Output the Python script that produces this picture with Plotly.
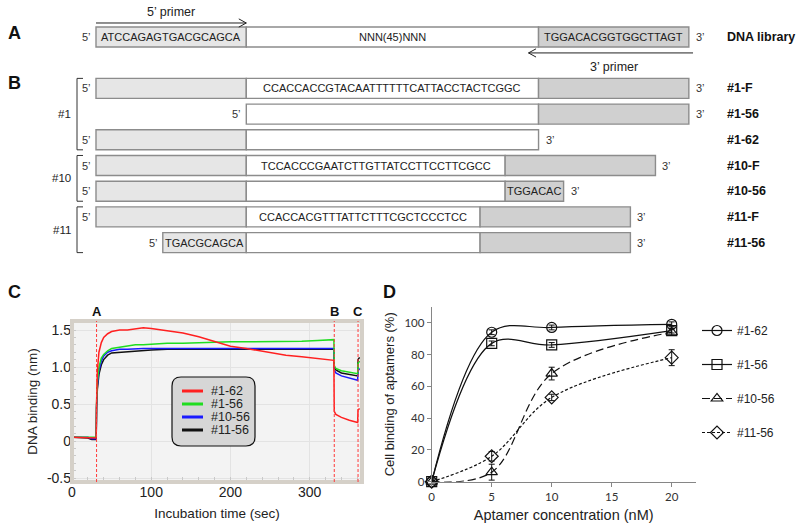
import plotly.graph_objects as go

W, H = 800, 530
def px(x): return x / W
def py(y): return 1 - y / H

# ---------------- Panels A/B: DNA constructs (lengths in nucleotides) ----------------
rows = ["DNA library", "#1-F", "#1-56", "#1-62", "#10-F", "#10-56", "#11-F", "#11-56"]
p5_len = [18, 18, 0, 18, 18, 18, 18, 10]
mid_len = [35, 35, 35, 35, 31, 31, 28, 28]
p3_len = [18, 18, 18, 0, 18, 7, 18, 18]
p5_text = ["ATCCAGAGTGACGCAGCA", "", "", "", "", "", "", "TGACGCAGCA"]
mid_text = ["NNN(45)NNN", "CCACCACCGTACAATTTTTTCATTACCTACTCGGC", "", "",
            "TCCACCCGAATCTTGTTATCCTTCCTTCGCC", "", "CCACCACGTTTATTCTTTCGCTCCCTCC", ""]
p3_text = ["TGGACACGGTGGCTTAGT", "", "", "", "", "TGGACAC", "", ""]
group_names = ["#1", "#10", "#11"]
group_first = [1, 4, 6]
group_last = [3, 5, 7]
primer_names = ["5’ primer", "3’ primer"]

# ---------------- Panel C: BLI sensorgram ----------------
t_sec = [1, 10, 20, 25, 30.5, 31, 32, 34, 37, 40, 45, 50, 60, 70, 80, 90, 100, 120, 140, 160,
         180, 200, 220, 235, 250, 270, 290, 310, 330.5, 331, 333, 340, 350, 360.5, 361, 363]
bli_names = ["#1-62", "#1-56", "#10-56", "#11-56"]
bli_162 = [0.05, 0.05, 0.05, 0.04, 0.04,
           0.50, 0.95, 1.20, 1.33, 1.40, 1.45, 1.48, 1.50, 1.50, 1.51, 1.53, 1.52, 1.49, 1.46, 1.41,
           1.34, 1.28, 1.25, 1.22, 1.19, 1.16, 1.14, 1.12, 1.09,
           0.40, 0.36, 0.32, 0.28, 0.25, 0.42, 0.44]
bli_156 = [0.05, 0.05, 0.05, 0.05, 0.05,
           0.50, 0.80, 1.00, 1.12, 1.17, 1.22, 1.25, 1.27, 1.29, 1.30, 1.30, 1.31, 1.32, 1.32, 1.33,
           1.33, 1.34, 1.34, 1.34, 1.34, 1.35, 1.35, 1.36, 1.37,
           1.02, 0.98, 0.95, 0.93, 0.91, 1.05, 1.08]
bli_1056 = [0.05, 0.05, 0.05, 0.03, 0.03,
            0.45, 0.75, 0.95, 1.08, 1.15, 1.20, 1.22, 1.24, 1.24, 1.25, 1.25, 1.25, 1.25, 1.25, 1.25,
            1.25, 1.25, 1.25, 1.25, 1.25, 1.25, 1.25, 1.25, 1.25,
            0.96, 0.92, 0.88, 0.85, 0.82, 0.95, 0.98]
bli_1156 = [0.05, 0.05, 0.04, 0.02, 0.02,
            0.45, 0.70, 0.90, 1.03, 1.10, 1.16, 1.19, 1.20, 1.21, 1.22, 1.23, 1.23, 1.24, 1.24, 1.24,
            1.24, 1.24, 1.24, 1.24, 1.24, 1.24, 1.24, 1.24, 1.24,
            1.00, 0.96, 0.92, 0.90, 0.88, 1.10, 1.13]
event_t = [31, 331, 361]
event_labels = ["A", "B", "C"]
c_xticks = [0, 100, 200, 300]
c_yticks = [-0.5, 0, 0.5, 1.0, 1.5]
c_yticktext = ["-0.5", "0", "0.5", "1.0", "1.5"]

# ---------------- Panel D: cell binding ----------------
conc_nM = [0, 5, 10, 20]
d_names = ["#1-62", "#1-56", "#10-56", "#11-56"]
bind_162 = [0, 94, 97, 99]
err_162 = [0.5, 1.5, 1.5, 1.5]
bind_156 = [0, 87, 86, 95]
err_156 = [0.5, 1.5, 1.5, 1.5]
bind_1056 = [0, 6, 68, 94]
err_1056 = [0.5, 5, 4, 2]
bind_1156 = [0, 16, 53, 78]
err_1156 = [0.5, 3, 2, 5]

# ================= figure =================
fig = go.Figure()
FONT = "Liberation Sans"

# ---- schematic axis (x3: nucleotides, y3: row slots) ----
row_slot = [0, 2, 3, 4, 5, 6, 7, 8]
x0_px, nt_px = 96.0, 8.35
row0_px, row_px = 37.0, 25.7
bar_w = 0.78
lib_p = p5_len[0]
n = len(rows)
p5_base = [lib_p - l for l in p5_len]
mid_base = [lib_p] * n
p3_base = [lib_p + m for m in mid_len]

edge = dict(color="#8c8c8c", width=1.4)
for base, lens, col in [(p5_base, p5_len, "#e6e6e6"), (mid_base, mid_len, "#ffffff"),
                        (p3_base, p3_len, "#d0d0d0")]:
    fig.add_trace(go.Bar(orientation="h", y=row_slot, x=[l if l else None for l in lens],
                         base=base, width=bar_w, marker=dict(color=col, line=edge),
                         xaxis="x3", yaxis="y3", showlegend=False, hoverinfo="skip"))

ann = []
def A(**kw):
    kw.setdefault("showarrow", False)
    kw.setdefault("xanchor", "center")
    kw.setdefault("yanchor", "middle")
    ann.append(kw)

seq_font = dict(family=FONT, size=11, color="#222")
for i in range(n):
    y = row_slot[i]
    for b, l, tx in [(p5_base[i], p5_len[i], p5_text[i]), (mid_base[i], mid_len[i], mid_text[i]),
                     (p3_base[i], p3_len[i], p3_text[i])]:
        if tx:
            A(x=b + l / 2, y=y, xref="x3", yref="y3", text=tx, font=seq_font)
    left = p5_base[i] if p5_len[i] else mid_base[i]
    right = (p3_base[i] + p3_len[i]) if p3_len[i] else (mid_base[i] + mid_len[i])
    A(x=left, y=y, xref="x3", yref="y3", text="5’", xanchor="right", xshift=-3,
      font=dict(family=FONT, size=11, color="#333"))
    A(x=right, y=y, xref="x3", yref="y3", text="3’", xanchor="left", xshift=5,
      font=dict(family=FONT, size=11, color="#333"))
    A(x=px(725), y=y, xref="paper", yref="y3", text="<b>%s</b>" % rows[i], xanchor="left",
      font=dict(family=FONT, size=12.5, color="#111"))

shapes = []
# group brackets
for g, a, b in zip(group_names, group_first, group_last):
    ya, yb = row_slot[a] - bar_w / 2, row_slot[b] + bar_w / 2
    xa, xb = px(77), px(83)
    shapes.append(dict(type="path", xref="paper", yref="y3",
                       path=f"M {xb},{ya} L {xa},{ya} L {xa},{yb} L {xb},{yb}",
                       line=dict(color="#333", width=1)))
    A(x=px(73), y=(row_slot[a] + row_slot[b]) / 2, xref="paper", yref="y3", text=g,
      xanchor="right", font=dict(family=FONT, size=11.5, color="#222"))

# primer arrows
arr_y5, arr_y3 = -0.545, 0.62
lib_end = p3_base[0] + p3_len[0]
ah_dx, ah_dy = 0.9, 0.16
shapes.append(dict(type="line", xref="x3", yref="y3", x0=0, x1=lib_p, y0=arr_y5, y1=arr_y5,
                   line=dict(color="#222", width=1)))
shapes.append(dict(type="path", xref="x3", yref="y3",
                   path=f"M {lib_p - ah_dx},{arr_y5 - ah_dy} L {lib_p},{arr_y5} L {lib_p - ah_dx},{arr_y5 + ah_dy}",
                   line=dict(color="#222", width=1)))
tip3 = p3_base[0] - 1.2
shapes.append(dict(type="line", xref="x3", yref="y3", x0=lib_end + 0.5, x1=tip3, y0=arr_y3, y1=arr_y3,
                   line=dict(color="#222", width=1)))
shapes.append(dict(type="path", xref="x3", yref="y3",
                   path=f"M {tip3 + ah_dx},{arr_y3 - ah_dy} L {tip3},{arr_y3} L {tip3 + ah_dx},{arr_y3 + ah_dy}",
                   line=dict(color="#222", width=1)))
A(x=lib_p / 2, y=-0.97, xref="x3", yref="y3", text=primer_names[0],
  font=dict(family=FONT, size=12.5, color="#222"))
A(x=(p3_base[0] + lib_end) / 2, y=1.17, xref="x3", yref="y3", text=primer_names[1],
  font=dict(family=FONT, size=12.5, color="#222"))

# ---- Panel C traces ----
c_cols = ["#ff2020", "#20dd20", "#1a1aff", "#111111"]
c_series = [bli_162, bli_156, bli_1056, bli_1156]
for idx in [3, 2, 1, 0]:
    fig.add_trace(go.Scatter(x=t_sec, y=c_series[idx], mode="lines", name=bli_names[idx],
                             line=dict(color=c_cols[idx], width=1.5), xaxis="x", yaxis="y",
                             showlegend=False, hoverinfo="skip"))

# C background + frame
shapes.append(dict(type="rect", xref="x domain", yref="y domain", x0=0, x1=1, y0=0, y1=1,
                   fillcolor="#f3f3f3", line=dict(width=0), layer="below"))
shapes.append(dict(type="rect", xref="x domain", yref="y domain", x0=0, x1=1, y0=0, y1=1,
                   line=dict(color="#d5d0c8", width=4), layer="above"))
for tv, lb in zip(event_t, event_labels):
    shapes.append(dict(type="line", xref="x", yref="y domain", x0=tv, x1=tv, y0=0, y1=1,
                       line=dict(color="#ff3b3b", width=1, dash="3px,2px")))
    A(x=tv, y=1, xref="x", yref="y domain", yanchor="bottom", yshift=0,
      text="<b>%s</b>" % lb, font=dict(family=FONT, size=13, color="#111"))

# C legend (rounded box)
lx0, lx1, ly0, ly1, r = 172, 255, 377, 446, 9
rx, ry = r / W, r / H
X0, X1, Y0, Y1 = px(lx0), px(lx1), py(ly0), py(ly1)
shapes.append(dict(type="path", xref="paper", yref="paper",
                   path=(f"M {X0+rx},{Y0} L {X1-rx},{Y0} Q {X1},{Y0} {X1},{Y0-ry} "
                         f"L {X1},{Y1+ry} Q {X1},{Y1} {X1-rx},{Y1} L {X0+rx},{Y1} "
                         f"Q {X0},{Y1} {X0},{Y1+ry} L {X0},{Y0-ry} Q {X0},{Y0} {X0+rx},{Y0} Z"),
                   fillcolor="#d6d6d6", line=dict(color="#111", width=1.2), layer="above"))
for k, (nm, col) in enumerate(zip(bli_names, c_cols)):
    yy = 391 + k * 13
    shapes.append(dict(type="line", xref="paper", yref="paper", x0=px(182), x1=px(203),
                       y0=py(yy), y1=py(yy), line=dict(color=col, width=3), layer="above"))
    A(x=px(209), y=py(yy), xref="paper", yref="paper", text=nm, xanchor="left",
      font=dict(family=FONT, size=12.5, color="#222"))

# ---- Panel D traces ----
d_series = [bind_162, bind_156, bind_1056, bind_1156]
d_errs = [err_162, err_156, err_1056, err_1156]
d_symbols = ["circle-open", "square-open", "triangle-up-open", "diamond-open"]
d_dash = ["solid", "solid", "8px,4px", "3px,2px"]
for k in range(4):
    fig.add_trace(go.Scatter(
        x=conc_nM, y=d_series[k], name=d_names[k], mode="lines+markers",
        line=dict(color="#111", width=1.2, shape="spline", smoothing=1, dash=d_dash[k]),
        marker=dict(symbol=d_symbols[k], size=10, color="#111", line=dict(width=1.2, color="#111")),
        error_y=dict(type="data", array=d_errs[k], visible=True, color="#111", thickness=1, width=3),
        xaxis="x2", yaxis="y2", legend="legend2", legendgroup=d_names[k], cliponaxis=False,
        hoverinfo="skip"))

# panel letters
for lt, (xx, yy) in zip(["A", "B", "C", "D"], [(14, 33), (14, 83), (14, 292), (389, 292)]):
    A(x=px(xx), y=py(yy), xref="paper", yref="paper", text="<b>%s</b>" % lt,
      font=dict(family=FONT, size=18, color="#111"))

fig.update_layout(
    width=W, height=H, margin=dict(l=0, r=0, t=0, b=0, autoexpand=False),
    paper_bgcolor="white", plot_bgcolor="rgba(0,0,0,0)",
    barmode="overlay", hovermode=False,
    font=dict(family=FONT, color="#222"),
    xaxis3=dict(domain=[0, 1], range=[-x0_px / nt_px, (W - x0_px) / nt_px], visible=False,
                anchor="y3", fixedrange=True, automargin=False),
    yaxis3=dict(domain=[0, 1], range=[(H - row0_px) / row_px, -row0_px / row_px], visible=False,
                anchor="x3", fixedrange=True, automargin=False),
    xaxis=dict(domain=[px(72), px(362)], range=[0, 366], anchor="y", tickmode="array",
               tickvals=c_xticks, showgrid=True, gridcolor="#e3e3e3", zeroline=False, ticks="",
               tickfont=dict(size=14, color="#222"), automargin=False,
               minor=dict(ticks="inside", ticklen=5, tickcolor="#c9c9c9", dtick=20, tick0=0, showgrid=False),
               title=dict(text="Incubation time (sec)", font=dict(size=13.5, color="#222"), standoff=9)),
    yaxis=dict(domain=[py(482), py(321)], range=[-0.554, 1.622], anchor="x", tickmode="array",
               tickvals=c_yticks, ticktext=c_yticktext, showgrid=True, gridcolor="#e3e3e3",
               zeroline=False, ticks="", tickfont=dict(size=14, color="#222"), automargin=False,
               minor=dict(ticks="inside", ticklen=4, tickcolor="#c9c9c9", dtick=0.1, tick0=0, showgrid=False),
               title=dict(text="DNA binding (nm)", font=dict(size=13.5, color="#222"), standoff=6)),
    xaxis2=dict(domain=[px(431.7), px(695.7)], range=[0, 22], anchor="y2", tickmode="array",
                tickvals=[0, 5, 10, 15, 20], showline=True, linecolor="#868686", linewidth=1,
                ticks="outside", ticklen=4, tickcolor="#868686", showgrid=False, zeroline=False,
                tickfont=dict(family="Lato", size=11.5, color="#333"), automargin=False,
                title=dict(text="Aptamer concentration (nM)", font=dict(size=14.5, color="#222"), standoff=8)),
    yaxis2=dict(domain=[py(481.7), py(306.8)], range=[0, 110], anchor="x2", tickmode="array",
                tickvals=[0, 20, 40, 60, 80, 100], showline=True, linecolor="#868686", linewidth=1,
                ticks="outside", ticklen=4, tickcolor="#868686", showgrid=False, zeroline=False,
                tickfont=dict(family="Lato", size=11.5, color="#333"), automargin=False,
                title=dict(text="Cell binding of aptamers (%)", font=dict(size=13, color="#222"), standoff=6)),
    legend2=dict(x=px(697), y=py(316), xanchor="left", yanchor="top", bgcolor="rgba(0,0,0,0)",
                 font=dict(family=FONT, size=12, color="#222"), tracegroupgap=15, itemwidth=30,
                 traceorder="grouped"),
    showlegend=True,
    shapes=shapes, annotations=ann,
)

fig.write_html("out.html", config={"displayModeBar": False, "staticPlot": True},
               post_script="document.body.style.margin='0';document.body.style.overflow='hidden';")
